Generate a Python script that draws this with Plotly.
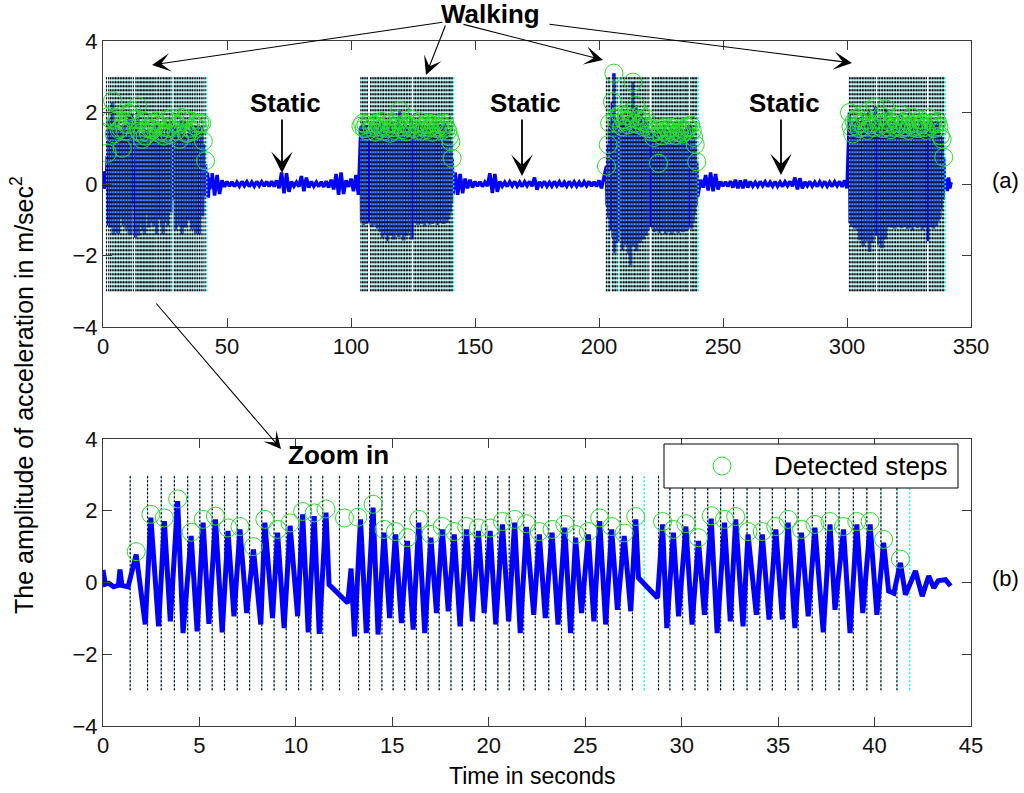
import numpy as np
import plotly.graph_objects as go

# ---------------- data: zoomed walk (panel b, also first walk in panel a) -------------
zoom_t = [0.00, 0.12, 0.30, 0.55, 0.80, 0.88, 0.98, 1.30, 1.72, 2.19, 2.48, 2.88, 3.18, 3.49,
          3.87, 4.15, 4.57, 4.88, 5.19, 5.49, 5.83, 6.18, 6.48, 6.79, 7.10, 7.45, 7.80, 8.18,
          8.39, 8.79, 9.05, 9.39, 9.70, 10.09, 10.35, 10.64, 10.95, 11.21, 11.56, 11.72, 12.69,
          12.86, 13.04, 13.35, 13.65, 14.00, 14.26, 14.57, 14.86, 15.16, 15.47, 15.78, 16.08,
          16.37, 16.68, 17.00, 17.29, 17.59, 17.90, 18.21, 18.51, 18.85, 19.15, 19.46, 19.76,
          20.07, 20.36, 20.71, 21.03, 21.34, 21.63, 21.95, 22.33, 22.62, 22.93, 23.28, 23.59,
          23.94, 24.24, 24.50, 24.81, 25.16, 25.45, 25.75, 26.06, 26.37, 26.67, 27.02, 27.36,
          27.62, 27.76, 28.75, 29.01, 29.23, 29.57, 29.84, 30.22, 30.54, 30.87, 31.18, 31.53,
          31.84, 32.22, 32.52, 32.80, 33.18, 33.44, 33.87, 34.18, 34.53, 34.88, 35.22, 35.52,
          35.87, 36.21, 36.56, 36.91, 37.34, 37.69, 37.95, 38.39, 38.73, 39.08, 39.39, 39.77,
          40.12, 40.47, 40.73, 41.00, 41.34, 41.60, 42.12, 42.47, 42.81, 43.07, 43.30, 43.68, 43.94]
zoom_a = [0.35, -0.05, -0.02, -0.12, -0.08, 0.36, -0.08, -0.12, 0.78, -1.17, 1.81, -1.22, 1.71, -1.08,
          2.27, -1.41, 1.30, -1.36, 1.67, -1.15, 1.76, -1.39, 1.44, -0.94, 1.48, -0.85, 0.92, -1.17,
          1.67, -0.99, 1.39, -1.27, 1.58, -0.94, 1.90, -1.39, 1.85, -1.43, 1.95, -0.06, -0.57,
          0.39, -1.50, 1.76, -1.41, 2.09, -1.45, 1.39, -0.99, 1.34, -1.13, 1.16, -1.31,
          1.67, -1.41, 1.25, -0.85, 1.48, -0.80, 1.34, -1.22, 1.48, -1.08, 1.44, -0.85,
          1.44, -1.17, 1.62, -1.08, 1.67, -1.41, 1.55, -0.90, 1.34, -0.99, 1.39, -1.17,
          1.53, -1.41, 1.25, -0.85, 1.34, -1.08, 1.71, -1.17, 1.48, -0.76, 1.30, -0.80,
          1.76, 0.13, -0.43, 1.62, -1.27, 1.39, -0.94, 1.56, -1.17, 1.16, -0.90, 1.78,
          -1.41, 1.67, -1.08, 1.76, -1.22, 1.34, -0.90, 1.34, -1.03, 1.48, -1.03, 1.67,
          -1.27, 1.39, -0.94, 1.53, -1.39, 1.62, -0.76, 1.48, -1.41, 1.62, -0.85, 1.62,
          -0.90, 1.11, -0.24, -0.30, 0.55, -0.34, 0.32, -0.38, 0.18, -0.15, 0.05, 0.08, -0.10]
zoom_step_lines = [1.41, 2.31, 3.02, 3.70, 4.39, 5.02, 5.66, 6.30, 6.96, 7.60, 8.23, 8.87, 9.50,
                   10.14, 10.78, 11.39, 12.26, 13.25, 13.82, 14.46, 15.04, 15.64, 16.25, 16.86,
                   17.43, 18.04, 18.63, 19.25, 19.84, 20.47, 21.06, 21.81, 22.41, 23.11, 23.77,
                   24.41, 25.02, 25.62, 26.20, 26.81, 27.45, 28.80, 29.39, 30.05, 30.69, 31.35,
                   32.02, 32.69, 33.39, 34.05, 34.70, 35.38, 36.04, 36.77, 37.46, 38.16, 38.90,
                   39.60, 40.33, 41.16]
zoom_cyan_lines = [28.06, 41.82]
zoom_detect_t = [1.72, 2.48, 3.18, 3.87, 4.57, 5.19, 5.83, 6.48, 7.10, 7.80, 8.39, 9.05, 9.70,
                 10.35, 10.95, 11.56, 12.52, 13.21, 14.00, 14.57, 15.16, 15.78, 16.37, 17.00,
                 17.59, 18.21, 18.85, 19.46, 20.07, 20.71, 21.34, 21.95, 22.62, 23.28, 23.94,
                 24.50, 25.16, 25.75, 26.37, 27.02, 27.62, 29.01, 29.57, 30.22, 30.87, 31.53,
                 32.22, 32.80, 33.44, 34.18, 34.88, 35.52, 36.21, 36.91, 37.69, 38.39, 39.08,
                 39.77, 40.47, 41.34]
zoom_detect_a = [0.86, 1.90, 1.80, 2.33, 1.40, 1.76, 1.85, 1.52, 1.56, 1.00, 1.76, 1.48, 1.66,
                 1.98, 1.94, 2.05, 1.80, 1.82, 2.18, 1.48, 1.42, 1.25, 1.76, 1.34,
                 1.56, 1.42, 1.56, 1.52, 1.52, 1.70, 1.76, 1.64, 1.42, 1.48, 1.62,
                 1.34, 1.42, 1.80, 1.56, 1.38, 1.84, 1.70, 1.48, 1.64, 1.25, 1.86,
                 1.76, 1.84, 1.42, 1.42, 1.56, 1.76, 1.48, 1.62, 1.70, 1.56, 1.70,
                 1.70, 1.20, 0.65]

# ---------------- data: other walks of panel (a) -------------
seg2_peak_t = [104.0, 104.7, 105.3, 106.0, 106.6, 107.9, 108.5, 109.2, 109.8, 110.5,
               111.1, 111.8, 112.5, 113.1, 113.8, 114.4, 115.1, 115.7, 116.4, 117.0,
               117.7, 118.3, 119.0, 119.7, 120.3, 121.0, 121.6, 122.3, 122.9, 123.6,
               124.2, 125.4, 126.0, 126.7, 127.3, 128.0, 128.6, 129.3, 129.9, 130.6,
               131.3, 131.9, 132.6, 133.2, 133.9, 134.5, 135.2, 135.8, 136.5, 137.1,
               137.8, 138.4, 139.1, 139.7, 140.3, 140.8]
seg2_peak_a = [1.62, 1.70, 1.55, 1.66, 1.48, 1.72, 1.58, 1.64, 1.45, 1.70,
               1.52, 1.60, 1.75, 1.48, 1.62, 1.55, 1.68, 1.42, 1.72, 1.58,
               1.50, 1.66, 1.80, 2.05, 1.60, 1.52, 1.70, 1.46, 1.64, 1.58,
               1.82, 1.55, 1.68, 1.50, 1.62, 1.74, 1.48, 1.60, 1.66, 1.52,
               1.70, 1.58, 1.45, 1.64, 1.72, 1.55, 1.60, 1.68, 1.50, 1.62,
               1.70, 1.56, 1.48, 1.32, 1.18, 0.72]
seg2_trough_t = [104.3, 105.0, 105.6, 106.3, 106.9, 108.2, 108.8, 109.5, 110.1, 110.8,
                 111.4, 112.1, 112.8, 113.4, 114.1, 114.7, 115.4, 116.0, 116.7, 117.3,
                 118.0, 118.6, 119.3, 120.0, 120.6, 121.3, 121.9, 122.6, 123.2, 123.9,
                 124.6, 125.7, 126.3, 127.0, 127.6, 128.3, 128.9, 129.6, 130.2, 130.9,
                 131.6, 132.2, 132.9, 133.5, 134.2, 134.8, 135.5, 136.1, 136.8, 137.4,
                 138.1, 138.7, 139.4, 140.0, 140.5, 141.1]
seg2_trough_a = [-1.05, -1.15, -1.00, -1.12, -1.08, -1.20, -1.05, -1.15, -1.10, -1.25,
                 -1.18, -1.35, -1.50, -1.28, -1.42, -1.60, -1.30, -1.45, -1.25, -1.55,
                 -1.38, -1.22, -1.48, -1.30, -1.40, -1.58, -1.26, -1.45, -1.35, -1.20,
                 -1.55, -1.10, -1.05, -1.15, -1.00, -1.12, -1.08, -1.18, -1.02, -1.10,
                 -1.14, -1.05, -1.12, -1.00, -1.08, -1.15, -1.04, -1.10, -1.06, -1.12,
                 -1.00, -1.08, -0.95, -0.80, -0.55, -0.30]

seg3_peak_t = [203.0, 203.7, 204.3, 205.4, 206.0, 206.6, 207.3, 208.6, 209.2, 209.9,
               210.5, 211.1, 211.8, 212.4, 213.0, 213.7, 214.3, 214.9, 215.6, 216.2,
               216.8, 217.5, 218.1, 218.7, 219.4, 220.1, 221.5, 222.1, 222.8, 223.4,
               224.0, 224.7, 225.3, 225.9, 226.6, 227.2, 227.8, 228.5, 229.1, 229.7,
               230.4, 231.0, 231.6, 232.3, 232.9, 233.5, 234.2, 234.8, 235.4, 235.9,
               237.0, 237.6, 238.2, 238.8, 239.4]
seg3_peak_a = [0.50, 1.10, 1.70, 2.30, 3.10, 1.85, 1.70, 1.95, 1.60, 1.80,
               1.75, 1.90, 1.65, 2.00, 1.85, 2.85, 1.70, 2.20, 1.80, 1.65,
               1.95, 1.75, 1.60, 1.85, 1.70, 1.55, 1.45, 1.30, 1.45, 1.50,
               0.58, 1.55, 1.35, 1.48, 1.60, 1.42, 1.52, 1.38, 1.58, 1.45,
               1.50, 1.36, 1.62, 1.44, 1.55, 1.40, 1.52, 1.46, 1.60, 1.58,
               1.65, 1.50, 1.30, 1.10, 0.62]
seg3_trough_t = [203.3, 204.0, 204.6, 205.7, 206.3, 206.9, 207.6, 208.9, 209.5, 210.2,
                 210.8, 211.4, 212.1, 212.7, 213.3, 214.0, 214.6, 215.2, 215.9, 216.5,
                 217.1, 217.8, 218.4, 219.0, 219.7, 220.6, 221.8, 222.4, 223.1, 223.7,
                 224.3, 225.0, 225.6, 226.2, 226.9, 227.5, 228.1, 228.8, 229.4, 230.0,
                 230.7, 231.3, 231.9, 232.6, 233.2, 233.8, 234.5, 235.1, 235.7, 236.4,
                 237.3, 237.9, 238.5, 239.1, 239.8]
seg3_trough_a = [-0.60, -0.95, -1.30, -1.50, -1.93, -1.40, -1.65, -1.30, -1.85, -1.45,
                 -1.70, -1.35, -1.95, -2.27, -1.60, -1.75, -1.40, -1.88, -1.50, -1.65,
                 -1.35, -1.55, -1.25, -1.45, -1.30, -1.20, -1.25, -1.35, -1.20, -1.30,
                 -1.38, -1.22, -1.32, -1.28, -1.40, -1.25, -1.35, -1.30, -1.42, -1.24,
                 -1.33, -1.28, -1.38, -1.22, -1.30, -1.35, -1.26, -1.32, -1.28, -1.20,
                 -1.25, -1.10, -0.85, -0.60, -0.35]

seg4_peak_t = [301.0, 301.6, 302.3, 302.9, 303.6, 304.2, 304.9, 305.5, 306.2, 306.8,
               307.5, 308.1, 308.8, 309.4, 310.1, 310.7, 311.4, 312.5, 313.1, 313.8,
               314.4, 315.1, 315.7, 316.4, 317.0, 317.7, 318.3, 319.0, 319.6, 320.3,
               320.9, 321.6, 322.2, 322.9, 323.5, 324.2, 324.8, 325.5, 326.1, 326.8,
               327.4, 328.1, 328.7, 329.4, 330.0, 330.7, 331.3, 332.0, 333.2, 333.8,
               334.5, 335.1, 335.8, 336.4, 337.1, 337.7, 338.4, 339.0]
seg4_peak_a = [2.00, 1.60, 1.40, 1.75, 1.62, 1.85, 1.55, 1.70, 1.95, 1.60,
               1.78, 1.50, 2.05, 1.65, 1.72, 1.58, 2.16, 1.80, 1.62, 1.90,
               1.55, 1.70, 2.10, 1.60, 1.75, 1.52, 1.68, 1.85, 1.58, 1.72,
               1.62, 1.95, 1.55, 1.70, 1.60, 1.78, 1.50, 1.66, 1.88, 1.58,
               1.72, 1.62, 1.55, 1.80, 1.65, 1.70, 1.58, 1.50, 1.85, 1.62,
               1.72, 1.55, 1.68, 1.75, 1.60, 1.35, 1.25, 0.75]
seg4_trough_t = [301.3, 301.9, 302.6, 303.2, 303.9, 304.5, 305.2, 305.8, 306.5, 307.1,
                 307.8, 308.4, 309.1, 309.7, 310.4, 311.0, 311.9, 312.8, 313.4, 314.1,
                 314.7, 315.4, 316.0, 316.7, 317.3, 318.0, 318.6, 319.3, 319.9, 320.6,
                 321.2, 321.9, 322.5, 323.2, 323.8, 324.5, 325.1, 325.8, 326.4, 327.1,
                 327.7, 328.4, 329.0, 329.7, 330.3, 331.0, 331.6, 332.5, 333.5, 334.1,
                 334.8, 335.4, 336.1, 336.7, 337.4, 338.0, 338.7, 339.4]
seg4_trough_a = [-1.10, -1.20, -1.15, -1.25, -1.18, -1.30, -1.57, -1.35, -1.75, -1.40,
                 -1.60, -1.30, -1.90, -1.45, -1.65, -1.35, -1.45, -1.70, -1.50, -1.80,
                 -1.40, -1.55, -1.25, -1.20, -1.15, -1.22, -1.18, -1.25, -1.12, -1.20,
                 -1.16, -1.24, -1.10, -1.20, -1.18, -1.26, -1.14, -1.22, -1.30, -1.15,
                 -1.20, -1.24, -1.12, -1.18, -1.28, -1.15, -1.22, -1.60, -1.20, -1.15,
                 -1.25, -1.10, -1.18, -1.05, -0.95, -0.70, -0.45, -0.20]

top_cyan_lines = [28.06, 41.82, 141.4, 208.0, 240.0, 339.6]

# static (standing) periods, sampled once per second
static1_start, static1_a = 44, [
    0.30, -0.32, 0.25, -0.28, 0.10, -0.08, 0.07, -0.06, 0.06, -0.07,
    0.05, -0.06, 0.07, -0.05, 0.06, -0.07, 0.05, -0.06, 0.07, -0.05,
    0.06, -0.06, 0.07, -0.07, 0.08, -0.07, 0.10, -0.12, 0.32, -0.26,
    0.30, -0.22, 0.07, -0.06, 0.05, -0.07, 0.22, -0.20, 0.18, -0.10,
    0.07, -0.06, 0.05, -0.07, 0.06, -0.08, 0.08, -0.10, 0.12, -0.15,
    0.28, -0.30, 0.32, -0.28, 0.10, -0.08, 0.15, -0.20, 0.25, -0.30]
static2_start, static2_a = 142, [
    0.32, -0.30, 0.28, -0.26, 0.15, -0.12, 0.12, -0.10, 0.07, -0.06,
    0.06, -0.07, 0.05, -0.06, 0.30, -0.25, 0.28, -0.22, 0.07, -0.06,
    0.05, -0.07, 0.06, -0.05, 0.07, -0.06, 0.05, -0.07, 0.06, -0.05,
    0.07, -0.06, 0.18, -0.16, 0.06, -0.05, 0.07, -0.06, 0.05, -0.06,
    0.07, -0.05, 0.06, -0.07, 0.05, -0.06, 0.07, -0.05, 0.06, -0.06,
    0.05, -0.07, 0.06, -0.05, 0.07, -0.06, 0.06, -0.07, 0.10, -0.12, 0.15]
static3_start, static3_a = 241, [
    0.12, -0.10, 0.25, -0.18, 0.32, -0.20, 0.28, -0.15, 0.07, -0.06,
    0.06, -0.07, 0.08, -0.10, 0.12, -0.12, 0.10, -0.12, 0.12, -0.10,
    0.07, -0.06, 0.05, -0.06, 0.07, -0.05, 0.06, -0.07, 0.05, -0.06,
    0.07, -0.06, 0.05, -0.07, 0.06, -0.05, 0.07, -0.06, 0.18, -0.15,
    0.16, -0.12, 0.06, -0.05, 0.07, -0.06, 0.05, -0.07, 0.06, -0.05,
    0.07, -0.06, 0.05, -0.07, 0.06, -0.05, 0.07, -0.08, 0.10, -0.12]
tail_start, tail_end, tail_a = 339.9, 342.0, [0.15, -0.20, 0.18, -0.12, 0.05]

# ---------------- build series -------------
def interleave(pt, pa, tt, ta):
    t, a = [], []
    for i in range(len(pt)):
        t += [pt[i], tt[i]]
        a += [pa[i], ta[i]]
    return t, a

def static_t(start, vals):
    return list(np.arange(start, start + len(vals), 1.0))

s2t, s2a = interleave(seg2_peak_t, seg2_peak_a, seg2_trough_t, seg2_trough_a)
s3t, s3a = interleave(seg3_peak_t, seg3_peak_a, seg3_trough_t, seg3_trough_a)
s4t, s4a = interleave(seg4_peak_t, seg4_peak_a, seg4_trough_t, seg4_trough_a)

top_t = (zoom_t + static_t(static1_start, static1_a) + s2t + static_t(static2_start, static2_a)
         + s3t + static_t(static3_start, static3_a) + s4t
         + list(np.linspace(tail_start, tail_end, len(tail_a))))
top_a = (zoom_a + static1_a + s2a + static2_a + s3a + static3_a + s4a + tail_a)

top_step_lines = zoom_step_lines + seg2_peak_t + seg3_peak_t + seg4_peak_t
top_detect_t = zoom_detect_t + seg2_peak_t + seg3_peak_t + seg4_peak_t
top_detect_a = zoom_detect_a + seg2_peak_a + seg3_peak_a + seg4_peak_a

def vlines(times, lo=-3, hi=3):
    xs, ys = [], []
    for t in times:
        xs += [t, t, None]
        ys += [lo, hi, None]
    return xs, ys

BLUE = "#0000ff"
GREEN = "rgb(40,225,40)"
CYAN = "#7fd8dc"
FONT = "Arial, Liberation Sans, sans-serif"

fig = go.Figure()

# ---- top panel
fig.add_trace(go.Scatter(x=top_t, y=top_a, mode="lines", line=dict(color=BLUE, width=3.5),
                         xaxis="x", yaxis="y", hoverinfo="skip"))
vx, vy = vlines(top_step_lines)
fig.add_trace(go.Scatter(x=vx, y=vy, mode="lines", line=dict(color=CYAN, width=0.8),
                         xaxis="x", yaxis="y", hoverinfo="skip"))
fig.add_trace(go.Scatter(x=vx, y=vy, mode="lines", line=dict(color="#000000", width=1.2, dash="2px,2px"),
                         xaxis="x", yaxis="y", hoverinfo="skip"))
cx, cy = vlines(top_cyan_lines)
fig.add_trace(go.Scatter(x=cx, y=cy, mode="lines", line=dict(color="#00ffff", width=1.5, dash="2px,2px"),
                         xaxis="x", yaxis="y", hoverinfo="skip"))
fig.add_trace(go.Scatter(x=top_detect_t, y=top_detect_a, mode="markers",
                         marker=dict(symbol="circle-open", size=18, color=GREEN, line=dict(width=1)),
                         xaxis="x", yaxis="y", hoverinfo="skip"))

# ---- bottom panel
bx, by = vlines(zoom_step_lines)
fig.add_trace(go.Scatter(x=bx, y=by, mode="lines", line=dict(color=CYAN, width=0.8),
                         xaxis="x2", yaxis="y2", hoverinfo="skip"))
fig.add_trace(go.Scatter(x=bx, y=by, mode="lines", line=dict(color="#000000", width=1.2, dash="2px,2px"),
                         xaxis="x2", yaxis="y2", hoverinfo="skip"))
bcx, bcy = vlines(zoom_cyan_lines)
fig.add_trace(go.Scatter(x=bcx, y=bcy, mode="lines", line=dict(color="#00ffff", width=1.5, dash="2px,2px"),
                         xaxis="x2", yaxis="y2", hoverinfo="skip"))
fig.add_trace(go.Scatter(x=zoom_t, y=zoom_a, mode="lines", line=dict(color=BLUE, width=5),
                         xaxis="x2", yaxis="y2", hoverinfo="skip"))
fig.add_trace(go.Scatter(x=zoom_detect_t, y=zoom_detect_a, mode="markers",
                         marker=dict(symbol="circle-open", size=18, color=GREEN, line=dict(width=1)),
                         xaxis="x2", yaxis="y2", hoverinfo="skip"))

# ---- layout geometry (pixels -> paper)
L, R, T, B = 103, 971, 41, 726
def px(x):
    return (x - L) / (R - L)
def py(y):
    return (B - y) / (B - T)

axis_common = dict(showline=True, linecolor="#3c3c3c", linewidth=1, mirror="allticks",
                   ticks="inside", ticklen=9, tickcolor="#3c3c3c", showgrid=False, zeroline=False,
                   tickfont=dict(family=FONT, size=22, color="#111111"))

fig.update_layout(
    width=1024, height=793,
    margin=dict(l=L, r=1024 - R, t=T, b=793 - B),
    paper_bgcolor="white", plot_bgcolor="white", showlegend=False,
    xaxis=dict(domain=[0, 1], anchor="y", range=[0, 350], tickvals=[0, 50, 100, 150, 200, 250, 300, 350], **axis_common),
    yaxis=dict(domain=[py(327), 1], anchor="x", range=[-4, 4], tickvals=[-4, -2, 0, 2, 4], **axis_common),
    xaxis2=dict(domain=[0, 1], anchor="y2", range=[0, 45], tickvals=list(range(0, 50, 5)), **axis_common),
    yaxis2=dict(domain=[0, py(439)], anchor="x2", range=[-4, 4], tickvals=[-4, -2, 0, 2, 4], **axis_common),
)

ann = []
def text(xp, yp, s, size=26, bold=False, xanchor="center", angle=0):
    ann.append(dict(x=px(xp), y=py(yp), xref="paper", yref="paper", text=("<b>%s</b>" % s) if bold else s,
                    showarrow=False, xanchor=xanchor, yanchor="middle", textangle=angle,
                    font=dict(family=FONT, size=size, color="#000000")))
def arrow(tail, tip, width=1.1, size=2.8):
    ann.append(dict(x=px(tip[0]), y=py(tip[1]), xref="paper", yref="paper", text="",
                    showarrow=True, ax=tail[0] - tip[0], ay=tail[1] - tip[1],
                    arrowhead=3, arrowsize=size, arrowwidth=width, arrowcolor="#000000",
                    standoff=0, startstandoff=0))

text(490, 14, "Walking", bold=True)
arrow((444, 22), (152, 65))
arrow((446, 24), (426, 75))
arrow((462, 24), (603, 60))
arrow((548, 24), (852, 63))
for sx, tipy in [(282, 173), (522, 176), (781, 175)]:
    text(sx + 3, 103, "Static", bold=True)
    arrow((sx, 118), (sx, tipy), width=1.8, size=2.0)
text(338, 455, "Zoom in", bold=True)
arrow((155, 302), (281, 449), width=1.1, size=2.6)
text(1005, 180, "(a)", size=22)
text(1005, 578, "(b)", size=22)
text(532, 776, "Time in seconds", size=23)
text(22, 395, "The amplitude of acceleration in m/sec<sup>2</sup>", size=25, angle=-90)
text(772, 466, "Detected steps", size=26, xanchor="left")

fig.update_layout(annotations=ann)
fig.update_layout(shapes=[
    dict(type="rect", xref="paper", yref="paper", x0=px(664), x1=px(958), y0=py(488), y1=py(444),
         line=dict(color="#000000", width=1), fillcolor="white", layer="above"),
    dict(type="circle", xref="paper", yref="paper", xsizemode="pixel", ysizemode="pixel",
         xanchor=px(722), yanchor=py(466), x0=-9, x1=9, y0=-9, y1=9,
         line=dict(color=GREEN, width=1), layer="above"),
])

fig.write_html("out.html", config={"displayModeBar": False},
               post_script="document.body.style.margin='0';document.body.style.overflow='hidden';")
